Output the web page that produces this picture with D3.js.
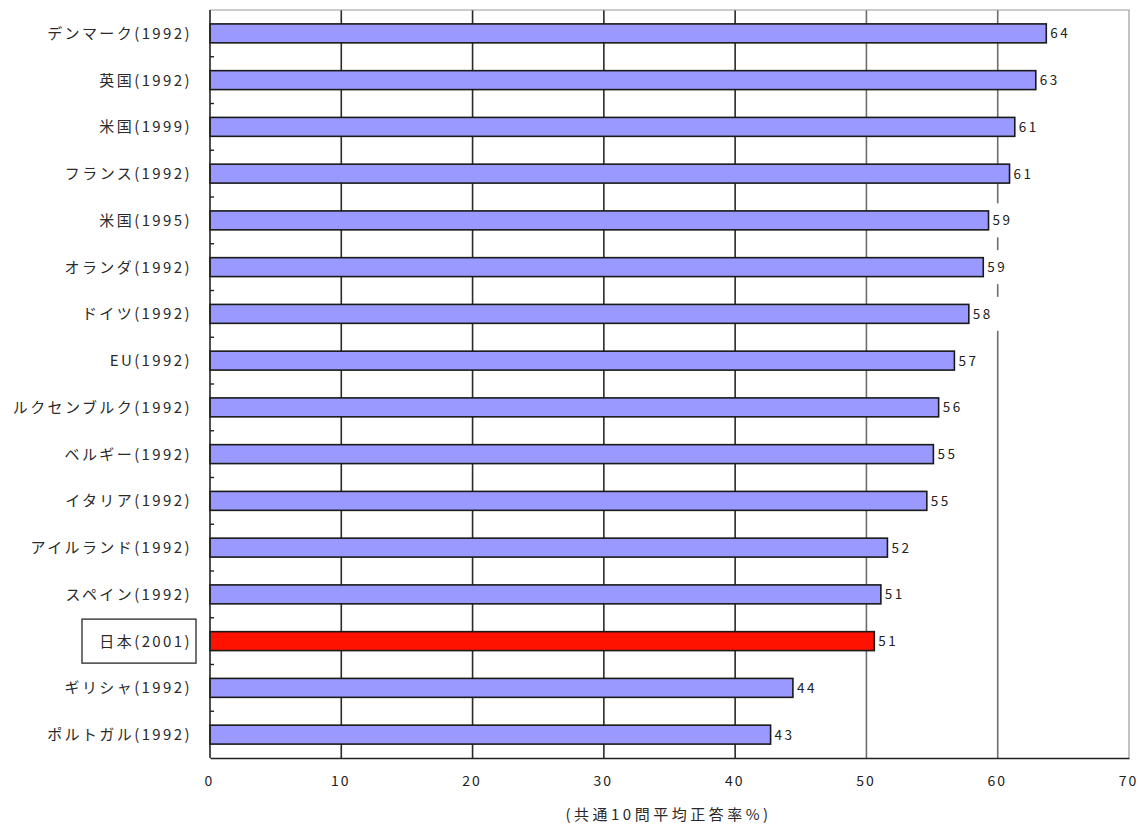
<!DOCTYPE html>
<html>
<head>
<meta charset="utf-8">
<script src="https://cdn.jsdelivr.net/npm/d3@7/dist/d3.min.js"></script>
<style>
  html, body { margin: 0; padding: 0; background: #fff; }
  svg { display: block; }
  text { font-family: "Noto Sans CJK JP", "Noto Sans", sans-serif; }
</style>
</head>
<body>
<svg id="chart" width="1138" height="824"></svg>
<script>
// Survey results: average correct-answer rate on 10 common questions
const categories = [
  "デンマーク(1992)", "英国(1992)", "米国(1999)", "フランス(1992)",
  "米国(1995)", "オランダ(1992)", "ドイツ(1992)", "EU(1992)",
  "ルクセンブルク(1992)", "ベルギー(1992)", "イタリア(1992)", "アイルランド(1992)",
  "スペイン(1992)", "日本(2001)", "ギリシャ(1992)", "ポルトガル(1992)"
];
const values = [63.7, 62.9, 61.3, 60.9, 59.3, 58.9, 57.8, 56.7,
                55.5, 55.1, 54.6, 51.6, 51.1, 50.6, 44.4, 42.7];
const highlighted = ["日本(2001)"];
const xTicks = [0, 10, 20, 30, 40, 50, 60, 70];
const xTitle = "(共通10問平均正答率%)";

const rows = categories.map((c, i) => ({ name: c, value: values[i] }));

const svg = d3.select("#chart");
const m = { left: 210, right: 1129, top: 10, bottom: 758 };

const x = d3.scaleLinear().domain([0, 70]).range([m.left, m.right]);
const y = d3.scaleBand().domain(categories).range([m.top, m.bottom])
  .paddingInner(0.595).paddingOuter(0.2975);

// vertical gridlines
svg.append("g").selectAll("line")
  .data(xTicks.filter(t => t > 0 && t < 70))
  .join("line")
  .attr("x1", d => x(d)).attr("x2", d => x(d))
  .attr("y1", m.top).attr("y2", m.bottom)
  .attr("stroke", d => d >= 50 ? "#6e6e6e" : "#2a2a2a")
  .attr("stroke-width", 1.6);

// plot frame (top and right)
svg.append("path")
  .attr("d", `M${m.left},${m.top}H${m.right}V${m.bottom}`)
  .attr("fill", "none").attr("stroke", "#9a9a9a").attr("stroke-width", 1.2);

// bars
svg.append("g").selectAll("rect")
  .data(rows)
  .join("rect")
  .attr("x", x(0))
  .attr("y", d => y(d.name))
  .attr("width", d => x(d.value) - x(0))
  .attr("height", y.bandwidth())
  .attr("fill", d => highlighted.includes(d.name) ? "#ff1200" : "#9999ff")
  .attr("stroke", "#1a1a1a")
  .attr("stroke-width", 1.6);

// value labels with white backing
const fmt = d3.format(".0f");
const lab = svg.append("g").selectAll("g")
  .data(rows)
  .join("g")
  .attr("transform", d => `translate(${x(d.value) + 4},${y(d.name) + y.bandwidth() / 2})`);
lab.append("rect")
  .attr("x", -2).attr("y", -17).attr("width", 30).attr("height", 34)
  .attr("fill", "#fff");
lab.append("text")
  .attr("dy", "0.36em")
  .attr("font-size", 13.5)
  .attr("letter-spacing", 2.5)
  .attr("fill", "#222")
  .text(d => fmt(d.value));

// bottom axis
const xAxis = svg.append("g")
  .attr("transform", `translate(0,${m.bottom})`)
  .call(d3.axisBottom(x).tickValues(xTicks).tickSize(0).tickPadding(18));
xAxis.select(".domain").attr("stroke", "#222").attr("stroke-width", 1.6);
xAxis.selectAll("text")
  .attr("font-size", 14).attr("letter-spacing", 2)
  .attr("fill", "#222")
  .attr("dx", -1)
  .attr("font-family", "\"Noto Sans CJK JP\", sans-serif");

// left axis with category-boundary ticks pointing inward
svg.append("line")
  .attr("x1", m.left).attr("x2", m.left)
  .attr("y1", m.top).attr("y2", m.bottom)
  .attr("stroke", "#222").attr("stroke-width", 1.6);
svg.append("g").selectAll("line")
  .data(d3.range(1, categories.length))
  .join("line")
  .attr("x1", m.left).attr("x2", m.left + 4)
  .attr("y1", i => m.top + i * (m.bottom - m.top) / categories.length)
  .attr("y2", i => m.top + i * (m.bottom - m.top) / categories.length)
  .attr("stroke", "#222").attr("stroke-width", 1.4);

// category labels
svg.append("g").selectAll("text")
  .data(categories)
  .join("text")
  .attr("x", 192)
  .attr("y", d => y(d) + y.bandwidth() / 2)
  .attr("dy", "0.36em")
  .attr("text-anchor", "end")
  .attr("font-size", 15)
  .attr("letter-spacing", 2.4)
  .attr("fill", "#2a2a2a")
  .text(d => d);

// box around the highlighted category label
highlighted.forEach(h => {
  const cy = y(h) + y.bandwidth() / 2;
  svg.append("rect")
    .attr("x", 82).attr("y", cy - 22)
    .attr("width", 114).attr("height", 44)
    .attr("fill", "none").attr("stroke", "#444").attr("stroke-width", 1.5);
});

// axis title
svg.append("text")
  .attr("x", (m.left + m.right) / 2 - 1)
  .attr("y", 815)
  .attr("dy", "0.36em")
  .attr("text-anchor", "middle")
  .attr("font-size", 15)
  .attr("letter-spacing", 3.5)
  .attr("fill", "#2a2a2a")
  .text(xTitle);
</script>
</body>
</html>
